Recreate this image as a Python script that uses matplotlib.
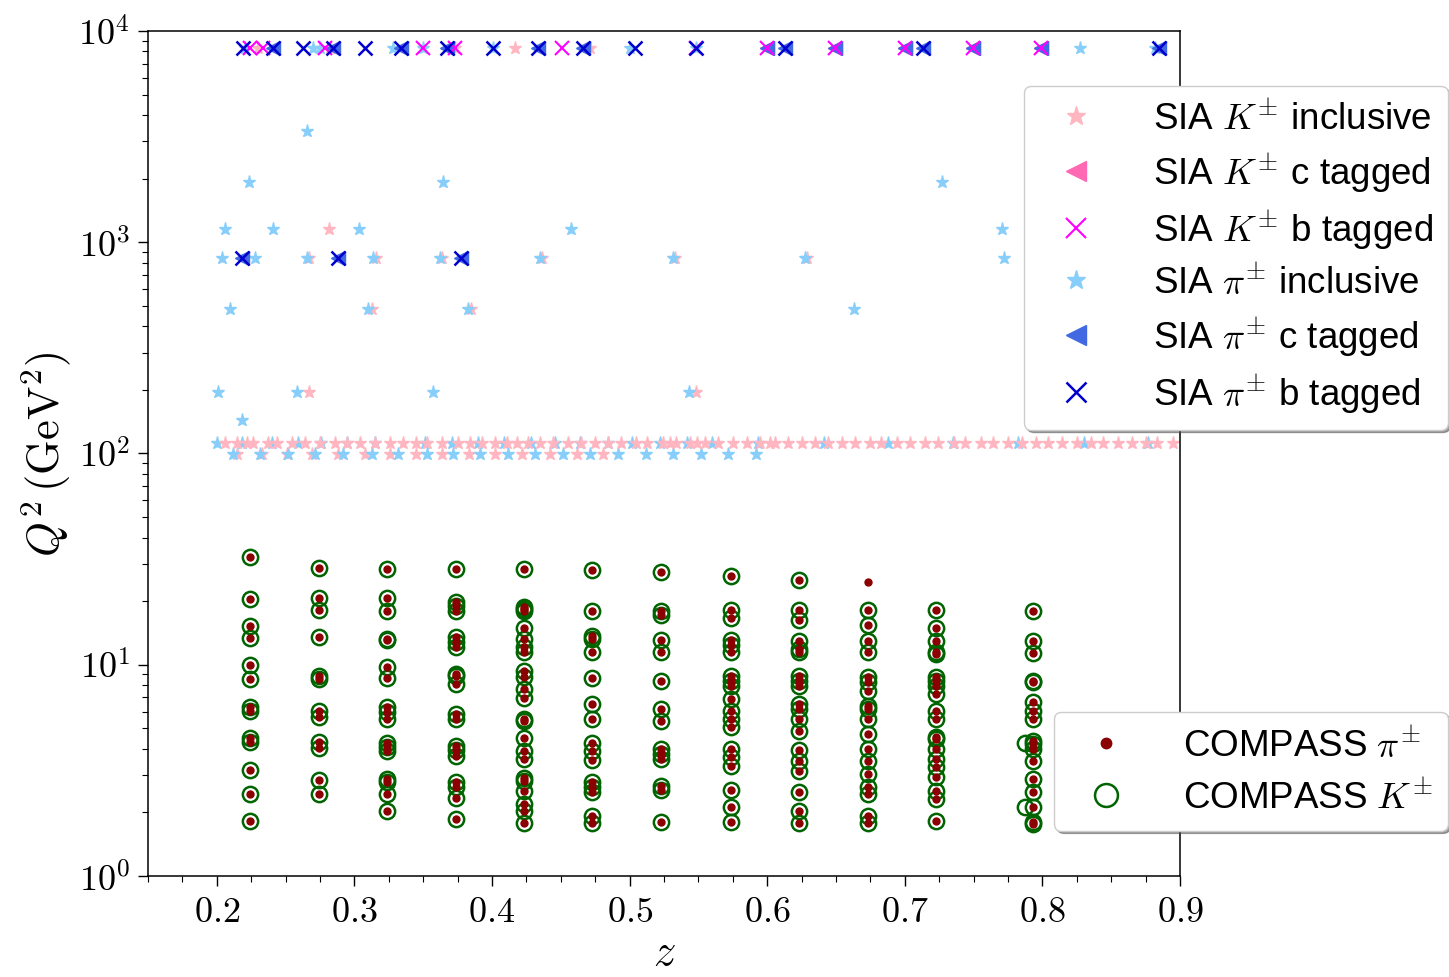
import numpy as np
import matplotlib
matplotlib.use("Agg")
import matplotlib.pyplot as plt
from matplotlib.ticker import MultipleLocator, FuncFormatter, LogLocator

plt.rcParams["font.family"] = ["Liberation Sans", "DejaVu Sans"]
plt.rcParams["mathtext.fontset"] = "cm"

# Q^2 levels of the SIA data (GeV^2)
q2_mz = 8315.0
q2_58 = 3364.0
q2_44 = 1936.0
q2_34 = 1156.0
q2_29 = 841.0
q2_22 = 484.0
q2_14 = 196.0
q2_12 = 144.0
q2_b = 111.8
q2_10 = 99.5

# SIA K inclusive (z per Q^2 level)
k_incl_mz = [0.230, 0.282, 0.373, 0.417, 0.471]
k_incl_34 = [0.2815]
k_incl_29 = [0.267, 0.316, 0.364, 0.436, 0.533, 0.629]
k_incl_22 = [0.313, 0.385]
k_incl_14 = [0.267, 0.548]
k_incl_10 = [0.215, 0.233, 0.251, 0.269, 0.288, 0.308, 0.326, 0.345, 0.364, 0.383,
             0.402, 0.422, 0.442, 0.462, 0.481]
k_incl_b = [0.206, 0.215, 0.222, 0.226, 0.237, 0.244, 0.255, 0.264, 0.275, 0.286,
            0.295, 0.304, 0.315, 0.326, 0.335, 0.345, 0.353, 0.364, 0.375, 0.384,
            0.393, 0.402, 0.411, 0.418, 0.426, 0.435, 0.444, 0.455, 0.465, 0.475,
            0.484, 0.494, 0.505, 0.513, 0.524, 0.529, 0.534, 0.544, 0.549, 0.555,
            0.564, 0.575, 0.585, 0.595, 0.602, 0.606, 0.615, 0.625, 0.635, 0.644,
            0.654, 0.664, 0.675, 0.683, 0.694, 0.704, 0.715, 0.724, 0.736, 0.744,
            0.755, 0.764, 0.775, 0.785, 0.795, 0.804, 0.814, 0.825, 0.835, 0.844,
            0.855, 0.865, 0.875, 0.883, 0.895]

# SIA pi inclusive
pi_incl_mz = [0.2205, 0.270, 0.275, 0.328, 0.350, 0.401, 0.500, 0.548, 0.827, 0.882]
pi_incl_58 = [0.2656]
pi_incl_44 = [0.2234, 0.3644, 0.7270]
pi_incl_34 = [0.2060, 0.2408, 0.3033, 0.4574, 0.7706]
pi_incl_29 = [0.2038, 0.2278, 0.2656, 0.3135, 0.3622, 0.4349, 0.5315, 0.6275, 0.7721]
pi_incl_22 = [0.2096, 0.3099, 0.3826, 0.6631]
pi_incl_14 = [0.2009, 0.2583, 0.3571, 0.5432]
pi_incl_12 = [0.2183]
pi_incl_10 = [0.2118, 0.2314, 0.2517, 0.2714, 0.2917, 0.3128, 0.3317, 0.3528, 0.3717,
              0.3913, 0.4116, 0.4313, 0.4516, 0.4712, 0.4916, 0.5119, 0.5315, 0.5519,
              0.5715, 0.5919]
pi_incl_b = [0.200, 0.218, 0.240, 0.259, 0.276, 0.295, 0.315, 0.351, 0.371, 0.390,
             0.409, 0.428, 0.446, 0.464, 0.484, 0.502, 0.522, 0.542, 0.560, 0.593,
             0.641, 0.688, 0.735, 0.782, 0.830, 0.877]

# SIA tagged samples
k_c_mz = [0.5999, 0.6493, 0.7001, 0.7496, 0.7990]
k_b_mz = [0.2241, 0.2336, 0.2786, 0.3499, 0.3731, 0.4509, 0.5483, 0.5999, 0.6493,
          0.7001, 0.7496, 0.7990]
pi_c_mz = [0.2408, 0.2844, 0.3339, 0.3673, 0.4334, 0.4661, 0.5999, 0.6129, 0.6493,
           0.7001, 0.7132, 0.7496, 0.7990, 0.8847]
pi_c_29 = [0.2183, 0.2881, 0.3775]
pi_b_mz = [0.2190, 0.2408, 0.2626, 0.2844, 0.3077, 0.3339, 0.3673, 0.4007, 0.4334,
           0.4661, 0.5039, 0.5483, 0.6129, 0.7132, 0.8847]
pi_b_29 = [0.2183, 0.2881, 0.3775]

# COMPASS z bins and Q^2 values per bin
compass_z = [0.224, 0.274, 0.324, 0.374, 0.423, 0.473, 0.523, 0.574, 0.623, 0.673, 0.723, 0.793]
cq_1 = [32.3, 20.5, 15.3, 13.4, 10.0, 8.56, 6.29, 6.06, 4.49, 4.30, 3.19, 2.44, 1.82]
cq_2 = [28.7, 20.6, 18.2, 13.5, 8.82, 8.56, 6.06, 5.64, 4.32, 4.02, 2.84, 2.44]
cq_3 = [28.4, 20.6, 18.0, 13.3, 13.1, 9.73, 8.63, 6.29, 5.99, 5.54, 4.26, 4.07, 3.92,
        2.88, 2.78, 2.44, 2.02]
cq_4 = [28.4, 19.9, 19.0, 18.0, 13.5, 12.8, 12.1, 9.04, 8.82, 8.11, 5.85, 5.54, 4.14,
        3.96, 3.71, 2.80, 2.63, 2.33, 1.86]
cq_5 = [28.4, 18.7, 18.4, 18.0, 14.9, 13.3, 12.1, 11.5, 9.37, 8.72, 7.68, 6.94, 5.54,
        5.43, 4.50, 3.92, 3.58, 2.90, 2.83, 2.52, 2.19, 2.04, 1.78]
cq_6 = [28.2, 18.0, 13.7, 13.2, 11.5, 8.63, 6.52, 5.54, 4.26, 3.92, 3.55, 2.78, 2.63,
        2.51, 1.93, 1.78]
cq_7 = [27.4, 18.0, 17.2, 13.1, 11.5, 8.40, 6.17, 5.43, 3.99, 3.78, 3.58, 2.66, 2.56, 1.80]
cq_8 = [26.4, 18.2, 16.6, 13.1, 12.4, 11.5, 8.88, 8.40, 7.96, 6.88, 6.06, 5.54, 5.06,
        3.99, 3.65, 3.33, 2.56, 2.11, 1.80]
cq_9 = [25.3, 18.2, 16.2, 13.0, 11.9, 11.5, 8.82, 8.40, 7.96, 6.52, 6.17, 5.54, 4.87,
        3.96, 3.51, 3.15, 2.49, 2.02, 1.78]
cq_10 = [18.2, 15.4, 13.0, 11.5, 8.72, 8.26, 7.54, 6.40, 6.17, 5.54, 4.70, 3.99, 3.51,
         3.04, 2.63, 2.44, 1.93, 1.78]
cq_11 = [18.2, 14.9, 13.0, 11.5, 11.2, 8.72, 8.40, 7.96, 7.27, 6.06, 5.54, 4.53, 4.45,
         3.99, 3.58, 3.27, 2.93, 2.53, 2.31, 1.83]
cq_12 = [18.0, 13.0, 11.4, 8.40, 8.26, 6.64, 6.06, 5.54, 4.37, 4.22, 3.99, 3.51, 2.88,
         2.49, 2.11, 1.80, 1.76]
compass_pi_only_z = [0.673]
compass_pi_only_q2 = [24.6]
compass_k_extra_z = [0.787, 0.787]
compass_k_extra_q2 = [4.25, 2.12]


def flatten(pairs):
    z, q = [], []
    for q2, zs in pairs:
        z += list(zs)
        q += [q2] * len(zs)
    return z, q


fig = plt.figure(figsize=(14.49, 9.78), dpi=100)
ax = fig.add_axes([0.1021, 0.1033, 0.7123, 0.8640])

star = dict(marker="*", linestyle="none", markersize=9.5)
z, q = flatten([(q2_mz, k_incl_mz), (q2_34, k_incl_34), (q2_29, k_incl_29),
                (q2_22, k_incl_22), (q2_14, k_incl_14), (q2_10, k_incl_10)])
h_ki, = ax.plot(z, q, color="lightpink", label=r"SIA $K^{\pm}$ inclusive", **star)
z, q = flatten([(q2_mz, pi_incl_mz), (q2_58, pi_incl_58), (q2_44, pi_incl_44),
                (q2_34, pi_incl_34), (q2_29, pi_incl_29), (q2_22, pi_incl_22),
                (q2_14, pi_incl_14), (q2_12, pi_incl_12), (q2_10, pi_incl_10),
                (q2_b, pi_incl_b)])
h_pi, = ax.plot(z, q, color="lightskyblue", label=r"SIA $\pi^{\pm}$ inclusive", **star)
z, q = flatten([(q2_b, k_incl_b)])
ax.plot(z, q, color="lightpink", **star)

z, q = flatten([(q2_mz, k_c_mz)])
h_kc, = ax.plot(z, q, color="hotpink", marker="<", linestyle="none", markersize=10,
                label=r"SIA $K^{\pm}$ c tagged")
z, q = flatten([(q2_mz, pi_c_mz), (q2_29, pi_c_29)])
h_pc, = ax.plot(z, q, color="royalblue", marker="<", linestyle="none", markersize=10,
                label=r"SIA $\pi^{\pm}$ c tagged")
z, q = flatten([(q2_mz, k_b_mz)])
h_kb, = ax.plot(z, q, color="magenta", marker="x", linestyle="none", markersize=10,
                markeredgewidth=1.5, label=r"SIA $K^{\pm}$ b tagged")
z, q = flatten([(q2_mz, pi_b_mz), (q2_29, pi_b_29)])
h_pb, = ax.plot(z, q, color="mediumblue", marker="x", linestyle="none", markersize=10,
                markeredgewidth=1.8, label=r"SIA $\pi^{\pm}$ b tagged")

pi_cols = [cq_1, cq_2, cq_3, cq_4, cq_5, cq_6, cq_7, cq_8, cq_9, cq_10, cq_11, cq_12]
z, q = [], []
for zc, col in zip(compass_z, pi_cols):
    z += [zc] * len(col)
    q += col
zk = z + compass_k_extra_z
qk = q + compass_k_extra_q2
zp = z + compass_pi_only_z
qp = q + compass_pi_only_q2
h_ck, = ax.plot(zk, qk, linestyle="none", marker="o", markersize=11,
                markerfacecolor="none", markeredgecolor="darkgreen", markeredgewidth=1.8,
                label=r"COMPASS $K^{\pm}$")
h_cp, = ax.plot(zp, qp, linestyle="none", marker="o", markersize=5, color="darkred",
                label=r"COMPASS $\pi^{\pm}$")

ax.set_yscale("log")
ax.set_xlim(0.15, 0.9)
ax.set_ylim(1, 1e4)
ax.xaxis.set_major_locator(MultipleLocator(0.1))
ax.xaxis.set_minor_locator(MultipleLocator(0.025))
ax.xaxis.set_major_formatter(FuncFormatter(lambda v, p: f"${v:.1f}$"))
ax.yaxis.set_major_locator(LogLocator(base=10, numticks=10))
ax.yaxis.set_major_formatter(FuncFormatter(lambda v, p: f"$10^{{{int(round(np.log10(v)))}}}$"))
ax.tick_params(which="major", direction="out", length=7, width=1.0, labelsize=26, pad=6)
ax.tick_params(which="minor", direction="out", length=4, width=0.8)
ax.tick_params(top=False, right=False, which="both")
for s in ax.spines.values():
    s.set_linewidth(1.1)

ax.set_xlabel(r"$z$", fontsize=32, labelpad=2)
ax.set_ylabel(r"$Q^2\,(\mathrm{GeV}^2)$", fontsize=32, labelpad=4)

legend_style = dict(loc="upper right", bbox_transform=fig.transFigure, borderaxespad=0,
                    fontsize=26.5, markerscale=1.5, shadow=True, handletextpad=1.1,
                    framealpha=1)
leg1 = ax.legend(handles=[h_ki, h_kc, h_kb, h_pi, h_pc, h_pb], labelspacing=0.36,
                 bbox_to_anchor=(0.999, 0.911), **legend_style)
ax.add_artist(leg1)
ax.legend(handles=[h_cp, h_ck], labelspacing=0.45,
          bbox_to_anchor=(0.999, 0.271), **legend_style)

fig.savefig("out.png", dpi=100)
